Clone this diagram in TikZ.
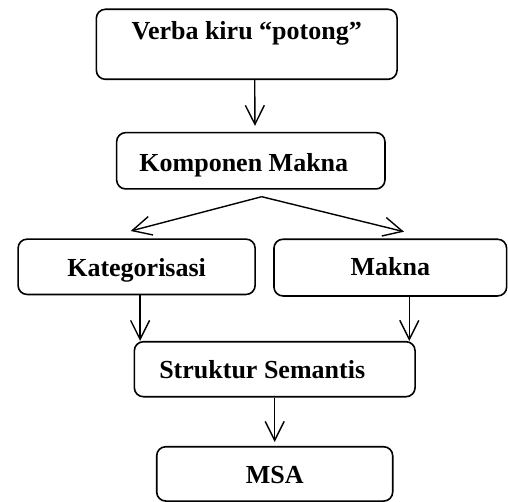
\documentclass[tikz,border=0pt]{standalone}
\usepackage{fontspec}
\setmainfont{Liberation Serif}
\usetikzlibrary{arrows.meta}

\begin{document}
\begin{tikzpicture}[x=1pt,y=-1pt]
\tikzset{box/.style = {draw, rounded corners=9pt, line width=1.6pt, inner xsep=0pt, inner ysep=0pt, font=\fontsize{26}{30}\selectfont\bfseries}}
\tikzset{edge/.style = {line width=1.4pt, -{Straight Barb[length=19pt,width=19pt]}}}
\useasboundingbox (0,0) rectangle (508,502);

\node[box, minimum width=300.7pt, text height=30.7pt, text depth=39.3pt] (verba) at (246.7,44.3) {Verba kiru “potong”};
\node[box, minimum width=268.3pt, text height=39pt, text depth=17.3pt] (komponen) at (250.8,160.8) {Komponen Makna\kern14pt};
\node[box, minimum width=237pt, text height=37pt, text depth=18.3pt] (kategori) at (136.6,266.8) {Kategorisasi};
\node[box, minimum width=232.7pt, text height=36.7pt, text depth=20pt] (makna) at (390.3,267.6) {Makna};
\node[box, minimum width=280.7pt, text height=36.6pt, text depth=18.4pt] (struktur) at (274.7,369.2) {Struktur Semantis\kern25pt};
\node[box, minimum width=236pt, text height=36.6pt, text depth=17.7pt] (msa) at (274.7,473.9) {MSA};

\coordinate (fork) at (261.7,196.7);
\coordinate (kl) at (130.7,231);
\coordinate (kr) at (404,231.7);

%edges
\draw[edge, shorten >=6pt] ([xshift=8pt]verba.south) -- ([xshift=4.2pt]komponen.north);
\draw[edge] (fork) -- (kl);
\draw[edge] (fork) -- (kr);
\draw[edge] ([xshift=3.5pt]kategori.south) -- ([xshift=3.5pt]kategori.south |- struktur.north);
\draw[edge] ([xshift=19pt]makna.south) -- ([xshift=19pt]makna.south |- struktur.north);
\draw[edge, shorten >=4pt] (struktur) -- (msa);
\end{tikzpicture}
\end{document}
